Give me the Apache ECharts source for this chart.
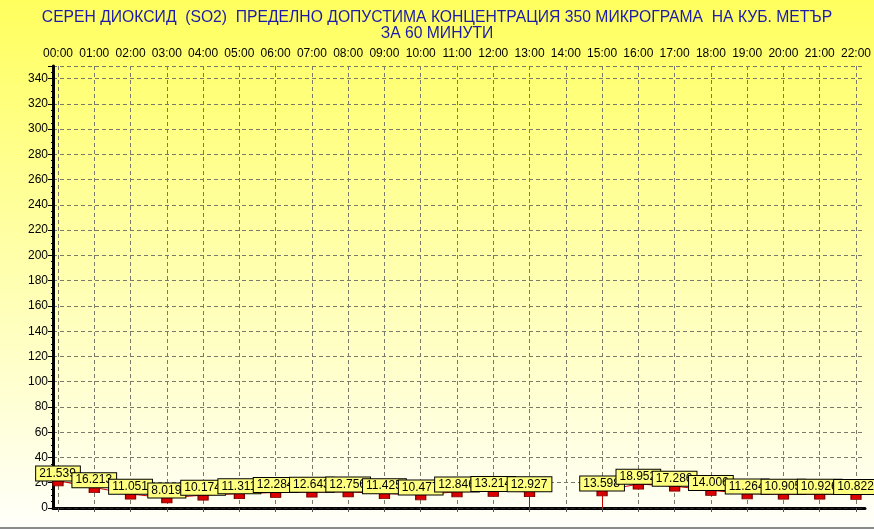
<!DOCTYPE html>
<html><head><meta charset="utf-8">
<script src="https://cdn.jsdelivr.net/npm/echarts@6/dist/echarts.min.js"></script>
<style>html,body{margin:0;padding:0;background:#fff}#c{width:874px;height:527px;border-bottom:2px solid #8a8a8a}</style>
</head><body><div id="c"></div>
<script>
const titleLines = ['СЕРЕН ДИОКСИД  (SO2)  ПРЕДЕЛНО ДОПУСТИМА КОНЦЕНТРАЦИЯ 350 МИКРОГРАМА  НА КУБ. МЕТЪР', 'ЗА 60 МИНУТИ'];
const hours = ['00:00','01:00','02:00','03:00','04:00','05:00','06:00','07:00','08:00','09:00','10:00','11:00','12:00','13:00','14:00','15:00','16:00','17:00','18:00','19:00','20:00','21:00','22:00'];
const so2 = [21.539,16.213,11.051,8.019,10.174,11.311,12.284,12.643,12.756,11.425,10.477,12.846,13.214,12.927,null,13.598,18.952,17.286,14.006,11.264,10.905,10.926,10.822];
const yMin = 0, yMax = 350, yStep = 20;

// vertical drops next to missing values
const drops = [];
so2.forEach((v, i) => {
  if (v == null) return;
  if ((i > 0 && so2[i-1] == null) || (i < so2.length-1 && so2[i+1] == null)) {
    drops.push([{coord:[hours[i], v]}, {coord:[hours[i], 0]}]);
  }
});

const font = 'Arial, "Liberation Sans", sans-serif';
const chart = echarts.init(document.getElementById('c'), null, {renderer:'canvas'});
const dash = {color:'#7a7a6a', width:1, type:[4,3]};
chart.setOption({
  animation:false,
  backgroundColor:{type:'linear',x:0,y:0,x2:0,y2:1,colorStops:[{offset:0,color:'#ffff5e'},{offset:1,color:'#fffffa'}]},
  title:{text:titleLines.join('\n'), left:'center', top:5, textStyle:{fontFamily:font, fontSize:15.7, fontWeight:'normal', color:'#1c1ca8', lineHeight:16}},
  grid:[
    {left:53, right:9, top:66, bottom:19},
    {left:58, right:14, top:66, bottom:19}
  ],
  xAxis:[
    {gridIndex:0, type:'value', min:0, max:1, position:'top', axisLine:{show:true, lineStyle:{color:'#000', width:3}}, axisTick:{show:false}, axisLabel:{show:false}, splitLine:{show:false}},
    {gridIndex:0, type:'value', min:0, max:1, position:'bottom', axisLine:{show:true, lineStyle:{color:'#222', width:1, type:[4,3]}}, axisTick:{show:false}, axisLabel:{show:false}, splitLine:{show:false}},
    {gridIndex:1, type:'category', data:hours, boundaryGap:false, position:'top',
     axisLine:{show:false}, axisTick:{show:true, inside:true, length:4, lineStyle:{color:'#555'}},
     axisLabel:{fontFamily:font, fontSize:12, color:'#000', margin:6, interval:0},
     splitLine:{show:true, lineStyle:dash}}
  ],
  yAxis:[
    {gridIndex:0, type:'value', min:yMin, max:yMax, interval:yStep, position:'left',
     axisLine:{show:true, lineStyle:{color:'#000', width:3}},
     axisTick:{show:true, length:5, lineStyle:{color:'#000'}},
     minorTick:{show:true, splitNumber:4, length:2, lineStyle:{color:'#000'}},
     axisLabel:{fontFamily:font, fontSize:12, color:'#000', margin:5, showMaxLabel:false},
     splitLine:{show:true, lineStyle:dash}},
    {gridIndex:0, type:'value', min:yMin, max:yMax, position:'right',
     axisLine:{show:true, lineStyle:{color:'#000', width:2}}, axisTick:{show:false}, axisLabel:{show:false}, splitLine:{show:false}},
    {gridIndex:1, type:'value', min:yMin, max:yMax, show:false}
  ],
  series:[{
    type:'line', xAxisIndex:2, yAxisIndex:2, data:so2, connectNulls:false,
    lineStyle:{color:'#cc0000', width:1},
    symbol:'rect', symbolSize:[10,6], symbolOffset:[0,2],
    itemStyle:{color:'#dd0000', borderColor:'#7a0000', borderWidth:1},
    label:{show:true, position:'top', distance:-1, fontFamily:font, fontSize:12, color:'#000',
      backgroundColor:'#ffff80', borderColor:'#000', borderWidth:1, padding:[1,4,1,3], lineHeight:12,
      formatter:p => String(p.value)},
    markLine:{silent:true, symbol:'none', label:{show:false}, lineStyle:{color:'#cc0000', width:1, type:'solid'}, data:drops}
  }]
});
</script></body></html>
